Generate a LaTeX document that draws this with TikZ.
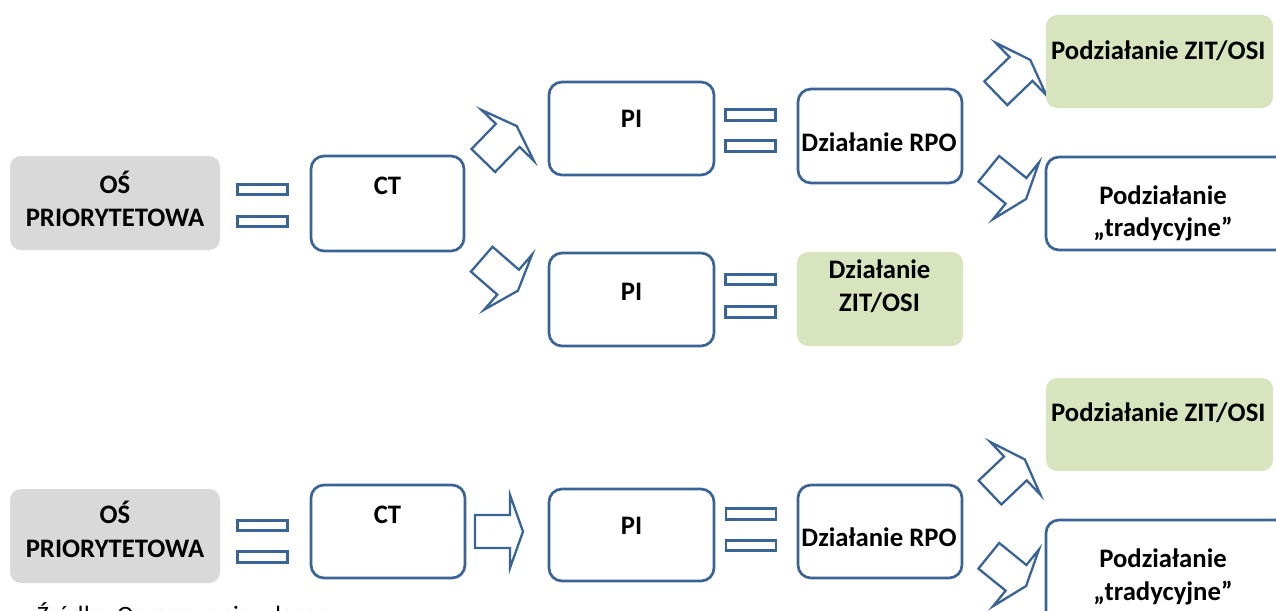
\documentclass[tikz,border=0pt]{standalone}
\usepackage{fontspec}
\setmainfont{Carlito}
\definecolor{myblue}{HTML}{3B6496}
\definecolor{mygray}{HTML}{D9D9D9}
\definecolor{mygreen}{HTML}{D7E4BD}
\begin{document}
\begin{tikzpicture}[x=1pt,y=-1pt,
  wbox/.style={draw=myblue, line width=2.7pt, fill=white, rounded corners=13pt, inner sep=0pt},
  gbox/.style={fill=mygray, rounded corners=11pt, inner sep=0pt},
  grbox/.style={fill=mygreen, rounded corners=11pt, inner sep=0pt},
  eqbar/.style={draw=myblue, line width=2.6pt, fill=white, minimum width=50pt, minimum height=10.5pt, inner sep=0pt},
  lbl/.style={font=\bfseries\fontsize{26.7}{32}\selectfont, anchor=base, inner sep=0pt},
  aline/.style={draw=myblue, line width=2.3pt, line join=miter},
  barrow/.pic={\draw[aline] (0,-16.5) -- (35,-16.5) -- (35,-36.5) -- (48,0) -- (35,36.5) -- (35,16.5) -- (0,16.5) -- cycle;}
  ]
\useasboundingbox (0,0) rectangle (1276,610);

% ---------- top section ----------
\node[gbox, minimum width=210pt, minimum height=94pt] (os1) at (115,203) {};
\node[lbl] (os1a) at (115,193.3) {OŚ};
\node[lbl] (os1b) at (115,226.7) {PRIORYTETOWA};
\node[eqbar] (e1a) at (262.5,189.5) {};
\node[eqbar] (e1b) at (262.5,221.5) {};
\node[wbox, minimum width=153pt, minimum height=95pt] (ct1) at (387.5,203.5) {};
\node[lbl] (ct1t) at (387.5,194) {CT};

\path (483.3,160.5) pic[rotate=45.8] {barrow};
\path (481.7,259.2) pic[rotate=-41] {barrow};

\node[wbox, minimum width=165pt, minimum height=93pt] (pi1) at (631.5,128.5) {};
\node[lbl] (pi1t) at (631.5,127.3) {PI};
\node[eqbar] (e2a) at (750.5,115) {};
\node[eqbar] (e2b) at (750.5,146) {};
\node[wbox, minimum width=164pt, minimum height=94pt] (rpo1) at (880,136) {};
\node[lbl] (rpo1t) at (879,151.7) {Działanie RPO};

\node[wbox, minimum width=165pt, minimum height=93pt] (pi2) at (631.5,299.5) {};
\node[lbl] (pi2t) at (631.5,300) {PI};
\node[eqbar] (e3a) at (750.5,279.5) {};
\node[eqbar] (e3b) at (750.5,312) {};
\node[grbox, minimum width=166pt, minimum height=94pt] (zit1) at (880,299) {};
\node[lbl] (zit1a) at (879.5,278.3) {Działanie};
\node[lbl] (zit1b) at (879.5,311.7) {ZIT/OSI};

\path (995.8,93.3) pic[rotate=44] {barrow};
\path (988.8,168.8) pic[rotate=-39] {barrow};

\node[grbox, minimum width=227pt, minimum height=93pt] (pz1) at (1159.5,61.5) {};
\node[lbl] (pz1t) at (1158.3,59.3) {Podziałanie ZIT/OSI};
\node[wbox, minimum width=244pt, minimum height=93pt] (tr1) at (1168,203.5) {};
\node[lbl] (tr1a) at (1163,204) {Podziałanie};
\node[lbl] (tr1b) at (1163,236) {„tradycyjne”};

% ---------- bottom section ----------
\node[gbox, minimum width=210pt, minimum height=94pt] (os2) at (115,536) {};
\node[lbl] (os2a) at (115,523.3) {OŚ};
\node[lbl] (os2b) at (115,557.3) {PRIORYTETOWA};
\node[eqbar] (e4a) at (262.5,525.5) {};
\node[eqbar] (e4b) at (262.5,557) {};
\node[wbox, minimum width=154pt, minimum height=93pt] (ct2) at (388,531.5) {};
\node[lbl] (ct2t) at (387.5,523.3) {CT};

\path (475,531.5) pic {barrow};

\node[wbox, minimum width=165pt, minimum height=92pt] (pi3) at (631.5,535) {};
\node[lbl] (pi3t) at (631.5,534) {PI};
\node[eqbar] (e5a) at (751,514) {};
\node[eqbar] (e5b) at (751,545.5) {};
\node[wbox, minimum width=164pt, minimum height=93pt] (rpo2) at (880,531.5) {};
\node[lbl] (rpo2t) at (879,546) {Działanie RPO};

\path (990,492.5) pic[rotate=43.5] {barrow};
\path (988.8,555.8) pic[rotate=-39] {barrow};

\node[grbox, minimum width=227pt, minimum height=93pt] (pz2) at (1159.5,424.5) {};
\node[lbl] (pz2t) at (1158.3,421.7) {Podziałanie ZIT/OSI};
\node[wbox, minimum width=244pt, minimum height=120pt] (tr2) at (1168,580) {};
\node[lbl] (tr2a) at (1163,567.3) {Podziałanie};
\node[lbl] (tr2b) at (1163,600) {„tradycyjne”};

\node[font=\fontsize{25}{30}\selectfont, anchor=base west, inner sep=0pt] (src) at (37,623) {Źródło: Opracowanie własne};
\end{tikzpicture}
\end{document}
